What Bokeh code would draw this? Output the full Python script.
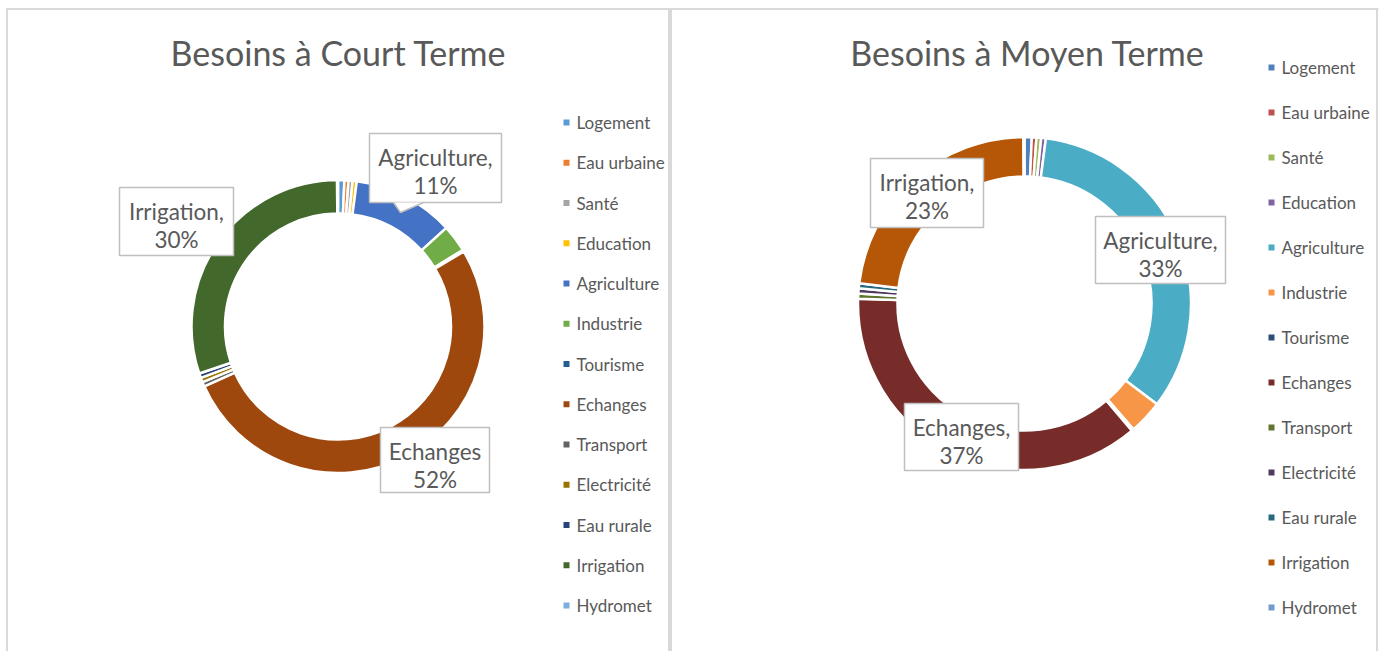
import math
from bokeh.plotting import figure
from bokeh.models import Range1d
from bokeh.embed import file_html
from bokeh.resources import INLINE
from bokeh.core.properties import value

# ---------------- data ----------------
categories = ["Logement", "Eau urbaine", "Santé", "Education", "Agriculture",
              "Industrie", "Tourisme", "Echanges", "Transport", "Electricité",
              "Eau rurale", "Irrigation", "Hydromet"]
values_court = [0.7, 0.45, 0.45, 0.45, 11.2, 3.0, 0.2, 51.85, 0.5, 0.5, 0.5, 30.1, 0.1]
values_moyen = [0.7, 0.45, 0.45, 0.45, 33.3, 3.3, 0.2, 36.6, 0.5, 0.5, 0.5, 22.95, 0.1]
colors_court = ["#5B9BD5", "#ED7D31", "#A5A5A5", "#FFC000", "#4472C4", "#70AD47",
                "#255E91", "#9E480E", "#636363", "#997300", "#264478", "#43682B", "#7CAFDD"]
colors_moyen = ["#4F81BD", "#C0504D", "#9BBB59", "#8064A2", "#4BACC6", "#F79646",
                "#2C4D75", "#772C2A", "#5F7530", "#4D3B62", "#276A7C", "#B65708", "#729ACA"]
titles = ["Besoins à Court Terme", "Besoins à Moyen Terme"]
labelled = ["Agriculture", "Irrigation", "Echanges"]

# ---------------- layout ----------------
W, H = 1381, 651
FONT = "Lato"
TXT = "#595959"


def Y(page_y):
    return H - page_y


p = figure(width=W, height=H, output_backend="svg", toolbar_location=None,
           x_range=Range1d(0, W), y_range=Range1d(0, H),
           min_border=0, outline_line_color=None)
p.axis.visible = False
p.grid.visible = False
p.background_fill_color = "white"

# frame lines
frame_col = "#D9D9D9"
p.line([6.5, 6.5], [Y(8), Y(660)], line_color=frame_col, line_width=2)
p.line([6, 1378], [Y(8.5), Y(8.5)], line_color=frame_col, line_width=2)
p.line([669.5, 669.5], [Y(8), Y(660)], line_color=frame_col, line_width=4)
p.line([1376.5, 1376.5], [Y(8), Y(660)], line_color=frame_col, line_width=2)

panels = [
    dict(values=values_court, colors=colors_court, title=titles[0],
         cx=337.5, cy=326, ro=146.5, ri=113,
         tx=338, ty=52, lx=566, ly0=122, ldy=40.25,
         boxes={"Agriculture": (369, 501, 133, 202, True),
                "Irrigation": (119, 233, 187, 255, True),
                "Echanges": (380, 489, 427, 492, False)},
         pointer=[(370, 202), (393, 202), (400, 212), (423, 202), (440, 202)]),
    dict(values=values_moyen, colors=colors_moyen, title=titles[1],
         cx=1024, cy=303, ro=166.5, ri=127,
         tx=1027, ty=52, lx=1271, ly0=67, ldy=45,
         boxes={"Irrigation": (870, 983, 158, 227, True),
                "Agriculture": (1095, 1225, 216, 283, True),
                "Echanges": (904, 1018, 403, 470, True)},
         pointer=None),
]

for pn in panels:
    vals = pn["values"]
    total = sum(vals)
    starts, ends = [], []
    c = 0.0
    for v in vals:
        starts.append(math.pi / 2 - 2 * math.pi * c / total)
        c += v
        ends.append(math.pi / 2 - 2 * math.pi * c / total)
    p.annular_wedge(x=[pn["cx"]] * len(vals), y=[Y(pn["cy"])] * len(vals),
                    inner_radius=pn["ri"], outer_radius=pn["ro"],
                    start_angle=starts, end_angle=ends, direction="clock",
                    fill_color=pn["colors"], line_color="white", line_width=2.5)

    # title
    p.text(x=[pn["tx"]], y=[Y(pn["ty"])], text=[pn["title"]],
           text_font=value(FONT), text_font_size="34px", text_color=TXT,
           text_align="center", text_baseline="middle")

    # legend
    ly = [Y(pn["ly0"] + i * pn["ldy"]) for i in range(len(categories))]
    p.scatter(x=[pn["lx"]] * len(categories), y=ly, marker="square", size=6,
              fill_color=pn["colors"], line_color=None)
    p.text(x=[pn["lx"] + 10] * len(categories), y=ly, text=categories,
           text_font=value(FONT), text_font_size="17px", text_color=TXT,
           text_align="left", text_baseline="middle")

    # data labels
    for cat in labelled:
        x0, x1, y0, y1, comma = pn["boxes"][cat]
        i = categories.index(cat)
        pct = round(100 * vals[i] / total)
        p.quad(left=[x0], right=[x1], top=[Y(y0)], bottom=[Y(y1)],
               fill_color="white", line_color="#BFBFBF", line_width=1.5)
        cx = (x0 + x1) / 2
        p.text(x=[cx, cx], y=[Y(y0 + 23.5), Y(y0 + 52)],
               text=[cat + ("," if comma else ""), f"{pct}%"],
               text_font=value(FONT), text_font_size="22.5px", text_color=TXT,
               text_align="center", text_baseline="middle")
    if pn["pointer"]:
        xs = [q[0] for q in pn["pointer"]]
        ys = [Y(q[1]) for q in pn["pointer"]]
        p.patch(xs, ys, fill_color="white", line_color=None)
        p.line([xs[1], xs[2], xs[3]], [ys[1], ys[2], ys[3]],
               line_color="#BFBFBF", line_width=1.5)

open("out.html", "w").write(file_html(p, INLINE))
